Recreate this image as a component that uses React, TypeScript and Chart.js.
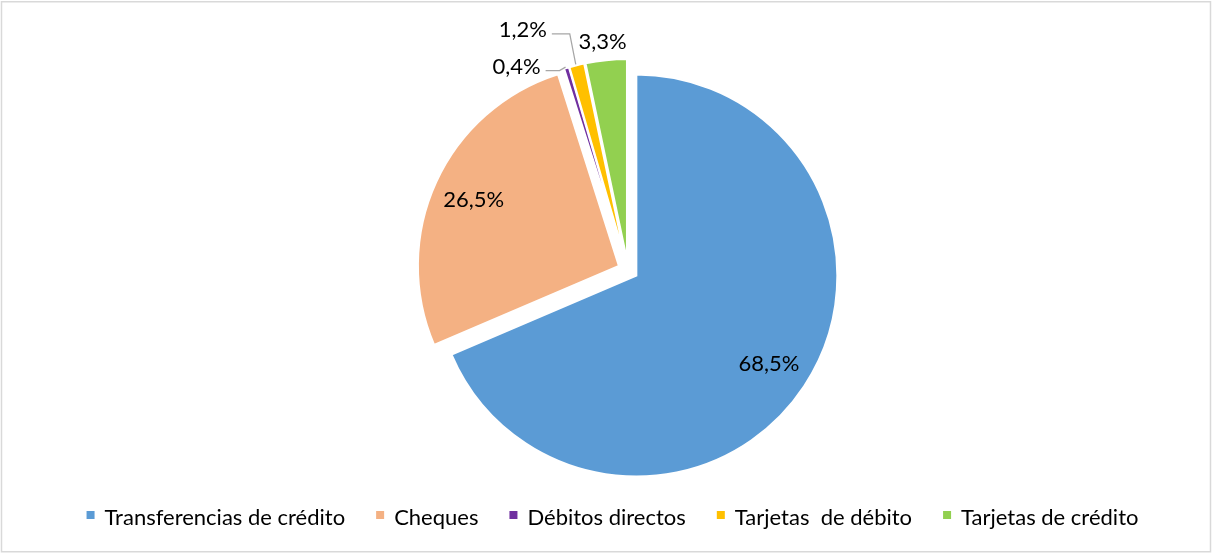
import React, { useEffect, useRef } from "react";
import { Chart, registerables } from "chart.js";

Chart.register(...registerables);

// ---- data ----
const CATEGORIES = [
  "Transferencias de crédito",
  "Cheques",
  "Débitos directos",
  "Tarjetas  de débito",
  "Tarjetas de crédito",
];
const SHARES = [68.5, 26.5, 0.4, 1.2, 3.3];
const SHARE_LABELS = ["68,5%", "26,5%", "0,4%", "1,2%", "3,3%"];

// ---- styles ----
const COLORS = ["#5B9BD5", "#F4B183", "#7030A0", "#FFC000", "#92D050"];
const FONT_FAMILY = "Lato, 'Noto Sans', sans-serif";
const FONT_SIZE = 22;
const EXPLODE = 10;
const PIE_RADIUS = 201;
const LEADER_COLOR = "#A6A6A6";
const LABEL_PLACEMENT = [
  { inside: true, r: 0.79, dx: 0, dy: 0, leader: false },
  { inside: true, r: 0.795, dx: 0, dy: 0, leader: false },
  { inside: false, r: 1, dx: -50, dy: -2.5, leader: true },
  { inside: false, r: 1, dx: -54, dy: -36.5, leader: true },
  { inside: false, r: 1, dx: -3.5, dy: -19, leader: false },
];
const LEGEND_CENTER_X = 612.5;
const LEGEND_BASELINE = 525;
const LEGEND_BOX = 8;
const LEGEND_BOX_GAP = 10;
const LEGEND_ITEM_GAP = 31;

const explodePlugin = {
  id: "explodeSlices",
  beforeDatasetDraw(chart: any, args: any) {
    const meta = chart.getDatasetMeta(args.index);
    const ctx = chart.ctx;
    meta.data.forEach((arc: any) => {
      const mid = (arc.startAngle + arc.endAngle) / 2;
      ctx.save();
      ctx.translate(Math.cos(mid) * EXPLODE, Math.sin(mid) * EXPLODE);
      arc.draw(ctx);
      ctx.restore();
    });
    return false;
  },
};

const labelPlugin = {
  id: "sliceLabels",
  afterDatasetsDraw(chart: any) {
    const ctx = chart.ctx;
    const meta = chart.getDatasetMeta(0);
    ctx.save();
    ctx.font = `${FONT_SIZE}px ${FONT_FAMILY}`;
    ctx.fillStyle = "#000";
    ctx.textAlign = "center";
    ctx.textBaseline = "alphabetic";
    const capHalf = FONT_SIZE * 0.36;
    meta.data.forEach((arc: any, i: number) => {
      const { x, y, startAngle, endAngle, outerRadius } = arc.getProps(
        ["x", "y", "startAngle", "endAngle", "outerRadius"],
        true
      );
      const mid = (startAngle + endAngle) / 2;
      const cx = x + Math.cos(mid) * EXPLODE;
      const cy = y + Math.sin(mid) * EXPLODE;
      const p = LABEL_PLACEMENT[i];
      let lx: number, ly: number;
      const ox = cx + Math.cos(mid) * outerRadius;
      const oy = cy + Math.sin(mid) * outerRadius;
      if (p.inside) {
        lx = cx + Math.cos(mid) * outerRadius * p.r;
        ly = cy + Math.sin(mid) * outerRadius * p.r;
      } else {
        lx = ox + p.dx;
        ly = oy + p.dy;
      }
      const text = SHARE_LABELS[i];
      ctx.fillText(text, lx, ly + capHalf);
      if (p.leader) {
        const w = ctx.measureText(text).width;
        ctx.save();
        ctx.strokeStyle = LEADER_COLOR;
        ctx.lineWidth = 1.25;
        ctx.beginPath();
        ctx.moveTo(lx + w / 2 + 5, ly + 5);
        ctx.lineTo(ox - 7, ly + 5);
        ctx.lineTo(ox - 1, oy - 1);
        ctx.stroke();
        ctx.restore();
      }
    });
    ctx.restore();
  },
};

const legendPlugin = {
  id: "bottomLegend",
  afterDraw(chart: any) {
    const ctx = chart.ctx;
    ctx.save();
    ctx.font = `${FONT_SIZE}px ${FONT_FAMILY}`;
    const widths = CATEGORIES.map((c) => ctx.measureText(c).width);
    const total =
      widths.reduce((a, b) => a + b, 0) +
      CATEGORIES.length * (LEGEND_BOX + LEGEND_BOX_GAP) +
      (CATEGORIES.length - 1) * LEGEND_ITEM_GAP;
    let x = LEGEND_CENTER_X - total / 2;
    ctx.textBaseline = "alphabetic";
    ctx.textAlign = "left";
    CATEGORIES.forEach((c, i) => {
      ctx.fillStyle = COLORS[i];
      ctx.fillRect(x, LEGEND_BASELINE - 14, LEGEND_BOX, LEGEND_BOX);
      x += LEGEND_BOX + LEGEND_BOX_GAP;
      ctx.fillStyle = "#000";
      ctx.fillText(c, x, LEGEND_BASELINE);
      x += widths[i] + LEGEND_ITEM_GAP;
    });
    // chart-area frame
    ctx.strokeStyle = "#D9D9D9";
    ctx.lineWidth = 1.5;
    ctx.strokeRect(1.5, 1.75, 1209, 550);
    ctx.restore();
  },
};

export default function App() {
  const canvasRef = useRef<HTMLCanvasElement | null>(null);

  useEffect(() => {
    if (!canvasRef.current) return;
    const chart = new Chart(canvasRef.current, {
      type: "pie",
      data: {
        labels: CATEGORIES,
        datasets: [
          {
            data: SHARES,
            backgroundColor: COLORS,
            borderColor: "#FFFFFF",
            borderWidth: 2,
            borderJoinStyle: "miter",
            radius: PIE_RADIUS,
          } as any,
        ],
      },
      options: {
        responsive: false,
        animation: false,
        events: [],
        layout: { padding: { left: 44, right: 0, top: 0, bottom: 14 } },
        plugins: {
          legend: { display: false },
          tooltip: { enabled: false },
        },
      },
      plugins: [explodePlugin, labelPlugin, legendPlugin],
    });
    return () => chart.destroy();
  }, []);

  return (
    <div style={{ position: "absolute", left: 0, top: 0, width: 1212, height: 554, background: "#fff" }}>
      <canvas ref={canvasRef} width={1212} height={554} style={{ display: "block" }} />
    </div>
  );
}
